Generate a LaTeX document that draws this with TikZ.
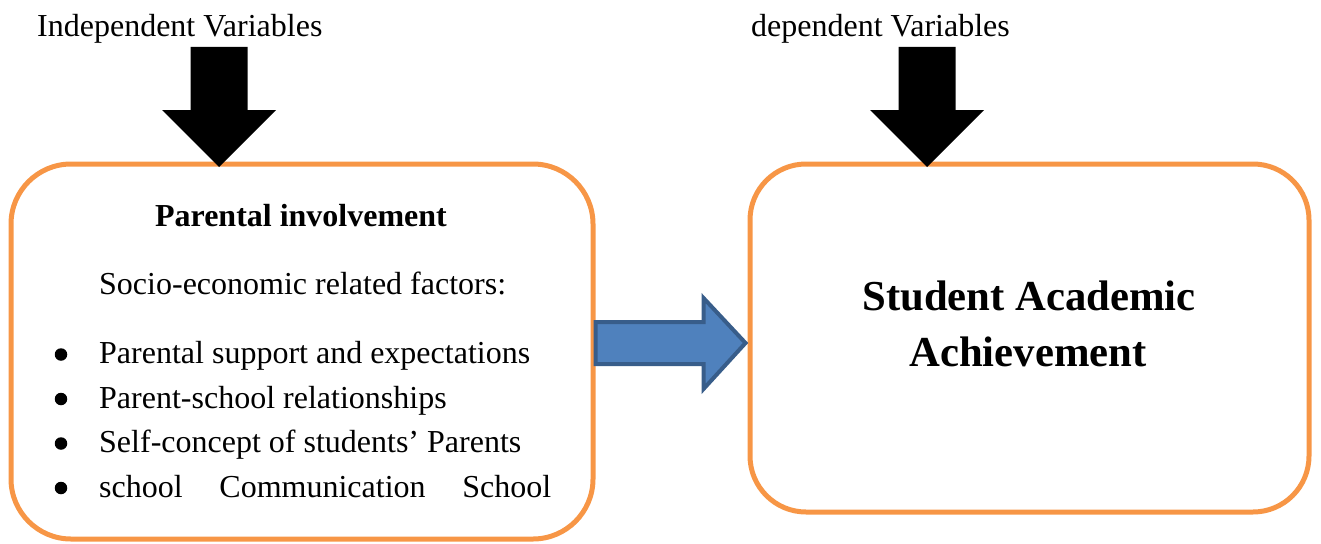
\documentclass[tikz,border=0pt]{standalone}
\usepackage{fontspec}
\setmainfont{Liberation Serif}
\usetikzlibrary{calc}
\definecolor{boxorange}{HTML}{F79646}
\definecolor{arrowblue}{HTML}{4F81BD}
\definecolor{arrowedge}{HTML}{385D8A}
\begin{document}
\begin{tikzpicture}[x=1pt,y=-1pt,
  roundbox/.style={draw=boxorange, line width=5pt, inner sep=0pt},
  txt/.style={inner sep=0pt, font=\fontsize{32}{38}\selectfont},
  btxt/.style={inner sep=0pt, font=\fontsize{32}{38}\selectfont\bfseries},
  bigtxt/.style={inner sep=0pt, font=\fontsize{42.7}{52}\selectfont\bfseries},
  bulletdot/.style={fill=black, circle, inner sep=0pt, minimum size=12.5pt},
  downarrow/.style={fill=black},
  bluearrow/.style={fill=arrowblue, draw=arrowedge, line width=4pt, line join=miter}
]
\useasboundingbox (0,0) rectangle (1321,543);

% boxes
\node[roundbox, rounded corners=60pt, minimum width=582pt, minimum height=375pt] (L) at (302,351.5) {};
\node[roundbox, rounded corners=56pt, minimum width=559pt, minimum height=348pt] (R) at (1029.5,338) {};

% headings
\node[txt, anchor=base west] (iv) at (37,37) {Independent Variables};
\node[txt, anchor=base west] (dv) at (751,37) {dependent Variables};

% black down arrows
\coordinate (lt) at (219,167);
\coordinate (rt) at (927,167);
\foreach \t in {lt,rt}{
  \fill[downarrow] ($(\t)+(-28.5,-120)$) -- ($(\t)+(28.5,-120)$) -- ($(\t)+(28.5,-57)$)
    -- ($(\t)+(57,-57)$) -- (\t) -- ($(\t)+(-57,-57)$) -- ($(\t)+(-28.5,-57)$) -- cycle;
}

% left box text
\node[btxt, anchor=base] (pi) at (301,226) {Parental involvement};
\node[txt, anchor=base west] (se) at (99,294) {Socio-economic related factors:};
\node[txt, anchor=base west] (b1) at (99,363.5) {Parental support and expectations};
\node[txt, anchor=base west] (b2) at (99,408) {Parent-school relationships};
\node[txt, anchor=base west] (b3) at (99,452.5) {Self-concept of students’ Parents};
\node[txt, anchor=base west] (b4) at (99,497) {\hbox to 452pt{school\hfill Communication\hfill School}};
\foreach \b in {b1,b2,b3,b4}{
  \node[bulletdot] at ($(\b.base west)+(-38,-9)$) {};
}

% right box text
\node[bigtxt, anchor=base] (sa1) at (1029,310) {Student Academic};
\node[bigtxt, anchor=base] (sa2) at (1028,366) {Achievement};

% blue arrow from L to R
\coordinate (bs) at ($(L.east)+(0,-8.5)$);
\coordinate (bt) at ($(R.west)+(-2,5)$);
\draw[bluearrow] ($(bs)+(0,-21)$) -- ($(bt)+(-42,-21)$) -- ($(bt)+(-42,-45)$) -- (bt)
  -- ($(bt)+(-42,46)$) -- ($(bt)+(-42,21)$) -- ($(bs)+(0,21)$) -- cycle;
\end{tikzpicture}
\end{document}
